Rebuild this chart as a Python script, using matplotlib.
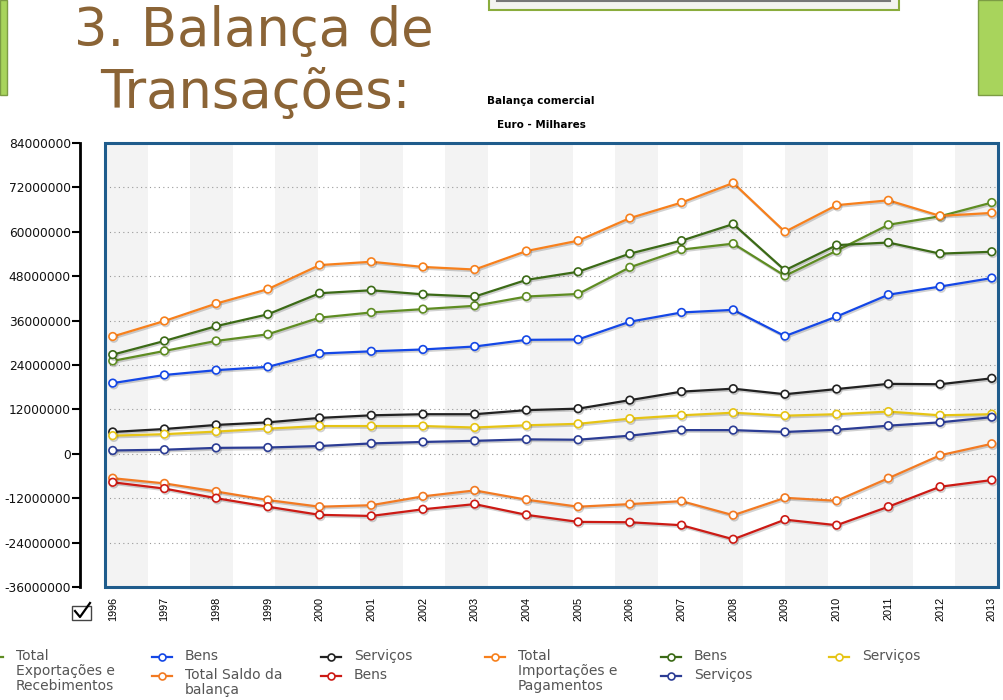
import numpy as np
import matplotlib
matplotlib.use("Agg")
import matplotlib.pyplot as plt
from matplotlib.patches import Rectangle
from matplotlib.lines import Line2D
import matplotlib.patheffects as pe

W, H = 1004, 700

years = list(range(1996, 2014))

# values in millions (Euro - Milhares)
tot_exp = [25.1, 27.8, 30.5, 32.3, 36.8, 38.2, 39.1, 40.0, 42.5, 43.2, 50.4, 55.2, 56.8, 48.1, 54.9, 61.9, 64.2, 67.9]
exp_bens = [19.1, 21.3, 22.6, 23.5, 27.1, 27.7, 28.2, 29.0, 30.8, 30.9, 35.7, 38.2, 38.9, 31.8, 37.1, 43.0, 45.2, 47.5]
exp_serv = [5.9, 6.7, 7.8, 8.5, 9.7, 10.4, 10.7, 10.7, 11.8, 12.2, 14.5, 16.8, 17.6, 16.1, 17.5, 18.9, 18.8, 20.4]
tot_imp = [31.7, 35.9, 40.6, 44.5, 51.0, 51.9, 50.5, 49.8, 54.8, 57.6, 63.7, 67.9, 73.2, 60.0, 67.2, 68.5, 64.3, 65.1]
imp_bens = [26.8, 30.5, 34.5, 37.7, 43.4, 44.2, 43.1, 42.5, 47.0, 49.2, 54.1, 57.6, 62.1, 49.6, 56.4, 57.1, 54.1, 54.6]
imp_serv = [4.9, 5.3, 6.0, 6.8, 7.5, 7.5, 7.5, 7.1, 7.7, 8.1, 9.5, 10.4, 11.1, 10.3, 10.7, 11.4, 10.4, 10.7]
saldo_tot = [-6.6, -8.0, -10.2, -12.5, -14.3, -13.9, -11.5, -9.9, -12.4, -14.3, -13.6, -12.8, -16.6, -11.9, -12.7, -6.6, -0.4, 2.7]
saldo_bens = [-7.7, -9.4, -12.0, -14.3, -16.5, -16.8, -15.0, -13.6, -16.5, -18.4, -18.5, -19.3, -23.1, -17.8, -19.3, -14.3, -8.9, -7.1]
saldo_serv = [0.9, 1.1, 1.6, 1.7, 2.1, 2.8, 3.2, 3.5, 3.9, 3.8, 4.9, 6.4, 6.4, 5.9, 6.5, 7.6, 8.5, 9.9]

series = [tot_exp, exp_bens, exp_serv, tot_imp, imp_bens, imp_serv, saldo_tot, saldo_bens, saldo_serv]
labels = ["Total\nExportações e\nRecebimentos", "Bens", "Serviços",
          "Total\nImportações e\nPagamentos", "Bens", "Serviços",
          "Total Saldo da\nbalança", "Bens", "Serviços"]
colors = ["#5e8c22", "#1447e6", "#222222", "#f7801c", "#3b6a16", "#e6c414",
          "#f27a22", "#cc1a14", "#2b3c94"]

yticks = np.arange(-36, 85, 12)

fig = plt.figure(figsize=(W / 100, H / 100), dpi=100)
fx = lambda x: x / W
fy = lambda y: 1 - y / H

# slide decorations
fig.patches.append(Rectangle((0, fy(95)), fx(7), 95 / H, transform=fig.transFigure,
                             facecolor="#a8d45c", edgecolor="#7c9c44", lw=1))
fig.patches.append(Rectangle((fx(978), fy(95)), fx(30), 95 / H, transform=fig.transFigure,
                             facecolor="#a8d45c", edgecolor="#7c9c44", lw=1))
fig.patches.append(Rectangle((fx(489), fy(10)), fx(410), 14 / H, transform=fig.transFigure,
                             facecolor="#f4f4f0", edgecolor="#8aac3c", lw=1.5))
fig.lines.append(Line2D([fx(497), fx(890)], [fy(1), fy(1)], transform=fig.transFigure,
                        color="#777777", lw=1.5))

title_kw = dict(ha="center", va="baseline", color="#8b6436", fontsize=38,
                family="DejaVu Sans")
fig.text(fx(254), fy(46), "3. Balança de", **title_kw)
fig.text(fx(255), fy(108), "Transações:", **title_kw)

fig.text(fx(487), fy(101), "Balança comercial", ha="left", va="center",
         fontsize=7.5, fontweight="bold", family="DejaVu Sans")
fig.text(fx(497), fy(125), "Euro - Milhares", ha="left", va="center",
         fontsize=7.5, fontweight="bold", family="DejaVu Sans")

ax = fig.add_axes([fx(105), fy(587), 893 / W, 444 / H])
ax.set_xlim(1995.85, 2013.12)
ax.set_ylim(-36, 84)

# background stripes
for k in range(11):
    ax.add_patch(Rectangle((k * 2 / 21, 0), 1 / 21, 1, transform=ax.transAxes,
                           facecolor="#f3f3f3", edgecolor="none", zorder=0))

ax.yaxis.grid(True, linestyle=(0, (1, 3)), color="#999999", lw=0.8)
ax.set_axisbelow(True)

for s in ["top", "right", "bottom"]:
    ax.spines[s].set_visible(False)
ax.spines["left"].set_position(("outward", 18))
ax.spines["left"].set_linewidth(2)
ax.spines["left"].set_color("black")

ax.set_yticks(yticks)
ax.set_yticklabels([f"{v * 1000000:d}" for v in yticks])
ax.set_xticks(years)
ax.set_xticklabels([str(y) for y in years], rotation=90, va="top", ha="center")
ax.tick_params(axis="x", length=0, pad=7, labelsize=7.8, labelfontfamily="Liberation Sans")
ax.tick_params(axis="y", length=5.5, width=1.5, direction="out", pad=1,
               labelsize=8.8, labelfontfamily="DejaVu Sans", labelcolor="#111111")

ax.add_patch(Rectangle((0, 0), 1, 1, transform=ax.transAxes, fill=False,
                       edgecolor="#1f5c8c", lw=2.2, clip_on=False, zorder=6))

shadow = [pe.SimpleLineShadow(offset=(0.8, -1.2), alpha=0.18, shadow_color="black"), pe.Normal()]
for vals, col in zip(series, colors):
    ax.plot(years, vals, color=col, lw=1.6, marker="o", ms=5.5, mfc="white",
            mec=col, mew=1.2, zorder=4, path_effects=shadow)

# checkbox icon
fig.patches.append(Rectangle((fx(72), fy(620)), fx(19), 14 / H, transform=fig.transFigure,
                             facecolor="white", edgecolor="#444444", lw=1))
fig.lines.append(Line2D([fx(75), fx(80), fx(90)], [fy(611), fy(617), fy(603)],
                        transform=fig.transFigure, color="black", lw=1.6))

# legend (flow layout as in the original)
slots = [(-7, 657), (162, 657), (331, 657), (495, 657), (671, 657), (839, 657),
         (162, 676), (331, 676), (671, 676)]
for (mx, my), lab, col in zip(slots, labels, colors):
    fig.lines.append(Line2D([fx(mx - 10), fx(mx + 10)], [fy(my), fy(my)],
                            transform=fig.transFigure, color=col, lw=1.6))
    fig.lines.append(Line2D([fx(mx)], [fy(my)], transform=fig.transFigure,
                            color=col, marker="o", ms=5, mfc="white", mec=col, mew=1.2))
    fig.text(fx(mx + 23), fy(my - 8), lab, ha="left", va="top", fontsize=10,
             color="#555555", family="DejaVu Sans", linespacing=1.08,
             transform=fig.transFigure)

fig.savefig("out.png", dpi=100)
